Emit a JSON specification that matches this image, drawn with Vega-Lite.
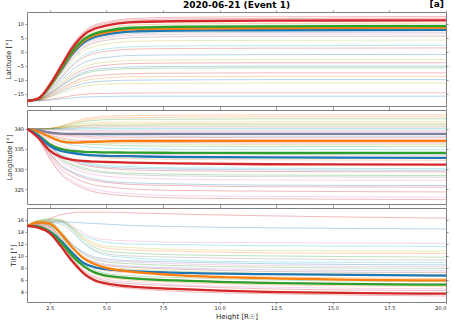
{
"$schema":"https://vega.github.io/schema/vega-lite/v6.json",
"padding":{"left":4,"top":0,"right":2,"bottom":0},
"title":{"text":"[a]","anchor":"end","fontSize":9,"fontWeight":"bold","offset":-9,"dx":-5},
"spacing":4,
"bounds":"flush",
"resolve":{"scale":{"color":"independent"}},
"datasets":{
"lat_thin":[
{"s":"a01","x":1.5,"y":-17.5},{"s":"a01","x":2,"y":-16.6},{"s":"a01","x":2.5,"y":-11.5},{"s":"a01","x":3,"y":-4.6},{"s":"a01","x":3.5,"y":2.4},{"s":"a01","x":4,"y":7.2},{"s":"a01","x":4.5,"y":9.6},{"s":"a01","x":5,"y":10.6},{"s":"a01","x":6,"y":11.8},{"s":"a01","x":8,"y":12.3},{"s":"a01","x":12,"y":12.5},{"s":"a01","x":20,"y":12.6},
{"s":"a02","x":1.5,"y":-17.5},{"s":"a02","x":2,"y":-16.6},{"s":"a02","x":2.5,"y":-11.6},{"s":"a02","x":3,"y":-4.8},{"s":"a02","x":3.5,"y":2.0},{"s":"a02","x":4,"y":6.7},{"s":"a02","x":4.5,"y":9.1},{"s":"a02","x":5,"y":10.1},{"s":"a02","x":6,"y":11.3},{"s":"a02","x":8,"y":11.7},{"s":"a02","x":12,"y":11.9},{"s":"a02","x":20,"y":12.0},
{"s":"a03","x":1.5,"y":-17.5},{"s":"a03","x":2,"y":-16.6},{"s":"a03","x":2.5,"y":-11.7},{"s":"a03","x":3,"y":-5.0},{"s":"a03","x":3.5,"y":1.7},{"s":"a03","x":4,"y":6.4},{"s":"a03","x":4.5,"y":8.7},{"s":"a03","x":5,"y":9.7},{"s":"a03","x":6,"y":10.9},{"s":"a03","x":8,"y":11.3},{"s":"a03","x":12,"y":11.5},{"s":"a03","x":20,"y":11.6},
{"s":"a04","x":1.5,"y":-17.5},{"s":"a04","x":2,"y":-16.7},{"s":"a04","x":2.5,"y":-12.0},{"s":"a04","x":3,"y":-5.6},{"s":"a04","x":3.5,"y":0.8},{"s":"a04","x":4,"y":5.2},{"s":"a04","x":4.5,"y":7.4},{"s":"a04","x":5,"y":8.4},{"s":"a04","x":6,"y":9.5},{"s":"a04","x":8,"y":9.9},{"s":"a04","x":12,"y":10.1},{"s":"a04","x":20,"y":10.2},
{"s":"a05","x":1.5,"y":-17.5},{"s":"a05","x":2,"y":-16.7},{"s":"a05","x":2.5,"y":-12.1},{"s":"a05","x":3,"y":-5.9},{"s":"a05","x":3.5,"y":0.4},{"s":"a05","x":4,"y":4.7},{"s":"a05","x":4.5,"y":6.9},{"s":"a05","x":5,"y":7.8},{"s":"a05","x":6,"y":8.9},{"s":"a05","x":8,"y":9.3},{"s":"a05","x":12,"y":9.5},{"s":"a05","x":20,"y":9.6},
{"s":"a06","x":1.5,"y":-17.5},{"s":"a06","x":2,"y":-16.7},{"s":"a06","x":2.5,"y":-12.2},{"s":"a06","x":3,"y":-6.1},{"s":"a06","x":3.5,"y":0.0},{"s":"a06","x":4,"y":4.2},{"s":"a06","x":4.5,"y":6.4},{"s":"a06","x":5,"y":7.3},{"s":"a06","x":6,"y":8.3},{"s":"a06","x":8,"y":8.7},{"s":"a06","x":12,"y":8.9},{"s":"a06","x":20,"y":9.0},
{"s":"a07","x":1.5,"y":-17.5},{"s":"a07","x":2,"y":-16.7},{"s":"a07","x":2.5,"y":-12.3},{"s":"a07","x":3,"y":-6.4},{"s":"a07","x":3.5,"y":-0.5},{"s":"a07","x":4,"y":3.7},{"s":"a07","x":4.5,"y":5.7},{"s":"a07","x":5,"y":6.6},{"s":"a07","x":6,"y":7.7},{"s":"a07","x":8,"y":8.0},{"s":"a07","x":12,"y":8.2},{"s":"a07","x":20,"y":8.3},
{"s":"a08","x":1.5,"y":-17.5},{"s":"a08","x":2,"y":-16.7},{"s":"a08","x":2.5,"y":-12.5},{"s":"a08","x":3,"y":-6.7},{"s":"a08","x":3.5,"y":-0.9},{"s":"a08","x":4,"y":3.1},{"s":"a08","x":4.5,"y":5.1},{"s":"a08","x":5,"y":6.0},{"s":"a08","x":6,"y":7.0},{"s":"a08","x":8,"y":7.4},{"s":"a08","x":12,"y":7.5},{"s":"a08","x":20,"y":7.6},
{"s":"a09","x":1.5,"y":-17.5},{"s":"a09","x":2,"y":-16.8},{"s":"a09","x":2.5,"y":-12.6},{"s":"a09","x":3,"y":-7.0},{"s":"a09","x":3.5,"y":-1.3},{"s":"a09","x":4,"y":2.6},{"s":"a09","x":4.5,"y":4.6},{"s":"a09","x":5,"y":5.4},{"s":"a09","x":6,"y":6.4},{"s":"a09","x":8,"y":6.8},{"s":"a09","x":12,"y":6.9},{"s":"a09","x":20,"y":7.0},
{"s":"a10","x":1.5,"y":-17.5},{"s":"a10","x":2,"y":-16.8},{"s":"a10","x":2.5,"y":-12.7},{"s":"a10","x":3,"y":-7.2},{"s":"a10","x":3.5,"y":-1.7},{"s":"a10","x":4,"y":2.1},{"s":"a10","x":4.5,"y":4.0},{"s":"a10","x":5,"y":4.9},{"s":"a10","x":6,"y":5.8},{"s":"a10","x":8,"y":6.2},{"s":"a10","x":12,"y":6.3},{"s":"a10","x":20,"y":6.4},
{"s":"a11","x":1.5,"y":-17.5},{"s":"a11","x":2,"y":-16.8},{"s":"a11","x":2.5,"y":-12.9},{"s":"a11","x":3,"y":-7.6},{"s":"a11","x":3.5,"y":-2.3},{"s":"a11","x":4,"y":1.4},{"s":"a11","x":4.5,"y":3.3},{"s":"a11","x":5,"y":4.1},{"s":"a11","x":6,"y":5.0},{"s":"a11","x":8,"y":5.4},{"s":"a11","x":12,"y":5.5},{"s":"a11","x":20,"y":5.6},
{"s":"a12","x":1.5,"y":-17.5},{"s":"a12","x":2,"y":-16.9},{"s":"a12","x":2.5,"y":-13.2},{"s":"a12","x":3,"y":-8.2},{"s":"a12","x":3.5,"y":-3.2},{"s":"a12","x":4,"y":0.3},{"s":"a12","x":4.5,"y":2.0},{"s":"a12","x":5,"y":2.8},{"s":"a12","x":6,"y":3.7},{"s":"a12","x":8,"y":4.0},{"s":"a12","x":12,"y":4.1},{"s":"a12","x":20,"y":4.2},
{"s":"a13","x":1.5,"y":-17.5},{"s":"a13","x":2,"y":-16.9},{"s":"a13","x":2.5,"y":-13.5},{"s":"a13","x":3,"y":-9.0},{"s":"a13","x":3.5,"y":-4.4},{"s":"a13","x":4,"y":-1.3},{"s":"a13","x":4.5,"y":0.3},{"s":"a13","x":5,"y":1.0},{"s":"a13","x":6,"y":1.8},{"s":"a13","x":8,"y":2.1},{"s":"a13","x":12,"y":2.2},{"s":"a13","x":20,"y":2.3},
{"s":"a14","x":1.5,"y":-17.5},{"s":"a14","x":2,"y":-16.9},{"s":"a14","x":2.5,"y":-13.7},{"s":"a14","x":3,"y":-9.4},{"s":"a14","x":3.5,"y":-5.0},{"s":"a14","x":4,"y":-2.0},{"s":"a14","x":4.5,"y":-0.5},{"s":"a14","x":5,"y":0.2},{"s":"a14","x":6,"y":0.9},{"s":"a14","x":8,"y":1.2},{"s":"a14","x":12,"y":1.3},{"s":"a14","x":20,"y":1.4},
{"s":"a15","x":1.5,"y":-17.5},{"s":"a15","x":2,"y":-17.0},{"s":"a15","x":2.5,"y":-14.2},{"s":"a15","x":3,"y":-10.4},{"s":"a15","x":3.5,"y":-6.5},{"s":"a15","x":4,"y":-3.9},{"s":"a15","x":4.5,"y":-2.6},{"s":"a15","x":5,"y":-2.0},{"s":"a15","x":6,"y":-1.3},{"s":"a15","x":8,"y":-1.1},{"s":"a15","x":12,"y":-1.0},{"s":"a15","x":20,"y":-0.9},
{"s":"a16","x":1.5,"y":-17.5},{"s":"a16","x":2,"y":-17.1},{"s":"a16","x":2.5,"y":-14.5},{"s":"a16","x":3,"y":-11.1},{"s":"a16","x":3.5,"y":-7.7},{"s":"a16","x":4,"y":-5.4},{"s":"a16","x":4.5,"y":-4.2},{"s":"a16","x":5,"y":-3.7},{"s":"a16","x":6,"y":-3.1},{"s":"a16","x":8,"y":-2.9},{"s":"a16","x":12,"y":-2.7},{"s":"a16","x":20,"y":-2.7},
{"s":"a17","x":1.5,"y":-17.5},{"s":"a17","x":2,"y":-17.1},{"s":"a17","x":2.5,"y":-14.8},{"s":"a17","x":3,"y":-11.7},{"s":"a17","x":3.5,"y":-8.5},{"s":"a17","x":4,"y":-6.4},{"s":"a17","x":4.5,"y":-5.3},{"s":"a17","x":5,"y":-4.8},{"s":"a17","x":6,"y":-4.2},{"s":"a17","x":8,"y":-4.0},{"s":"a17","x":12,"y":-3.9},{"s":"a17","x":20,"y":-3.9},
{"s":"a18","x":1.5,"y":-17.5},{"s":"a18","x":2,"y":-17.1},{"s":"a18","x":2.5,"y":-15.0},{"s":"a18","x":3,"y":-12.2},{"s":"a18","x":3.5,"y":-9.3},{"s":"a18","x":4,"y":-7.3},{"s":"a18","x":4.5,"y":-6.3},{"s":"a18","x":5,"y":-5.9},{"s":"a18","x":6,"y":-5.4},{"s":"a18","x":8,"y":-5.2},{"s":"a18","x":12,"y":-5.1},{"s":"a18","x":20,"y":-5.1},
{"s":"a19","x":1.5,"y":-17.5},{"s":"a19","x":2,"y":-17.2},{"s":"a19","x":2.5,"y":-15.1},{"s":"a19","x":3,"y":-12.4},{"s":"a19","x":3.5,"y":-9.7},{"s":"a19","x":4,"y":-7.8},{"s":"a19","x":4.5,"y":-6.9},{"s":"a19","x":5,"y":-6.5},{"s":"a19","x":6,"y":-6.0},{"s":"a19","x":8,"y":-5.8},{"s":"a19","x":12,"y":-5.7},{"s":"a19","x":20,"y":-5.7},
{"s":"a20","x":1.5,"y":-17.5},{"s":"a20","x":2,"y":-17.2},{"s":"a20","x":2.5,"y":-15.5},{"s":"a20","x":3,"y":-13.2},{"s":"a20","x":3.5,"y":-10.9},{"s":"a20","x":4,"y":-9.3},{"s":"a20","x":4.5,"y":-8.5},{"s":"a20","x":5,"y":-8.2},{"s":"a20","x":6,"y":-7.8},{"s":"a20","x":8,"y":-7.6},{"s":"a20","x":12,"y":-7.5},{"s":"a20","x":20,"y":-7.5},
{"s":"a21","x":1.5,"y":-17.5},{"s":"a21","x":2,"y":-17.2},{"s":"a21","x":2.5,"y":-15.7},{"s":"a21","x":3,"y":-13.7},{"s":"a21","x":3.5,"y":-11.7},{"s":"a21","x":4,"y":-10.3},{"s":"a21","x":4.5,"y":-9.6},{"s":"a21","x":5,"y":-9.3},{"s":"a21","x":6,"y":-8.9},{"s":"a21","x":8,"y":-8.8},{"s":"a21","x":12,"y":-8.7},{"s":"a21","x":20,"y":-8.7},
{"s":"a22","x":1.5,"y":-17.5},{"s":"a22","x":2,"y":-17.3},{"s":"a22","x":2.5,"y":-16.0},{"s":"a22","x":3,"y":-14.2},{"s":"a22","x":3.5,"y":-12.5},{"s":"a22","x":4,"y":-11.3},{"s":"a22","x":4.5,"y":-10.7},{"s":"a22","x":5,"y":-10.4},{"s":"a22","x":6,"y":-10.1},{"s":"a22","x":8,"y":-10.0},{"s":"a22","x":12,"y":-9.9},{"s":"a22","x":20,"y":-9.9},
{"s":"a23","x":1.5,"y":-17.5},{"s":"a23","x":2,"y":-17.3},{"s":"a23","x":2.5,"y":-16.2},{"s":"a23","x":3,"y":-14.8},{"s":"a23","x":3.5,"y":-13.3},{"s":"a23","x":4,"y":-12.3},{"s":"a23","x":4.5,"y":-11.7},{"s":"a23","x":5,"y":-11.5},{"s":"a23","x":6,"y":-11.3},{"s":"a23","x":8,"y":-11.2},{"s":"a23","x":12,"y":-11.1},{"s":"a23","x":20,"y":-11.1},
{"s":"a24","x":1.5,"y":-17.5},{"s":"a24","x":2,"y":-17.4},{"s":"a24","x":2.5,"y":-16.9},{"s":"a24","x":3,"y":-16.3},{"s":"a24","x":3.5,"y":-15.6},{"s":"a24","x":4,"y":-15.1},{"s":"a24","x":4.5,"y":-14.9},{"s":"a24","x":5,"y":-14.8},{"s":"a24","x":6,"y":-14.7},{"s":"a24","x":8,"y":-14.6},{"s":"a24","x":12,"y":-14.6},{"s":"a24","x":20,"y":-14.6},
{"s":"a25","x":1.5,"y":-17.5},{"s":"a25","x":2,"y":-17.5},{"s":"a25","x":2.5,"y":-17.2},{"s":"a25","x":3,"y":-16.8},{"s":"a25","x":3.5,"y":-16.4},{"s":"a25","x":4,"y":-16.1},{"s":"a25","x":4.5,"y":-16.0},{"s":"a25","x":5,"y":-15.9},{"s":"a25","x":6,"y":-15.8},{"s":"a25","x":8,"y":-15.8},{"s":"a25","x":12,"y":-15.8},{"s":"a25","x":20,"y":-15.8}
],
"lat_bold":[
{"s":"m4","x":1.5,"y":-17.5},{"s":"m4","x":2,"y":-16.7},{"s":"m4","x":2.5,"y":-12.4},{"s":"m4","x":3,"y":-6.6},{"s":"m4","x":3.5,"y":-0.8},{"s":"m4","x":4,"y":3.3},{"s":"m4","x":4.5,"y":5.3},{"s":"m4","x":5,"y":6.2},{"s":"m4","x":6,"y":7.2},{"s":"m4","x":8,"y":7.6},{"s":"m4","x":12,"y":7.7},{"s":"m4","x":20,"y":7.8},
{"s":"m3","x":1.5,"y":-17.5},{"s":"m3","x":2,"y":-16.7},{"s":"m3","x":2.5,"y":-12.3},{"s":"m3","x":3,"y":-6.3},{"s":"m3","x":3.5,"y":-0.3},{"s":"m3","x":4,"y":3.9},{"s":"m3","x":4.5,"y":6.0},{"s":"m3","x":5,"y":6.9},{"s":"m3","x":6,"y":8.0},{"s":"m3","x":8,"y":8.3},{"s":"m3","x":12,"y":8.5},{"s":"m3","x":20,"y":8.6},
{"s":"m2","x":1.5,"y":-17.5},{"s":"m2","x":2,"y":-16.7},{"s":"m2","x":2.5,"y":-12.2},{"s":"m2","x":3,"y":-6.0},{"s":"m2","x":3.5,"y":0.1},{"s":"m2","x":4,"y":4.4},{"s":"m2","x":4.5,"y":6.5},{"s":"m2","x":5,"y":7.5},{"s":"m2","x":6,"y":8.5},{"s":"m2","x":8,"y":8.9},{"s":"m2","x":12,"y":9.1},{"s":"m2","x":20,"y":9.2},
{"s":"m1","x":1.5,"y":-17.5},{"s":"m1","x":2,"y":-16.6},{"s":"m1","x":2.5,"y":-11.8},{"s":"m1","x":3,"y":-5.2},{"s":"m1","x":3.5,"y":1.4},{"s":"m1","x":4,"y":6.0},{"s":"m1","x":4.5,"y":8.3},{"s":"m1","x":5,"y":9.3},{"s":"m1","x":6,"y":10.5},{"s":"m1","x":8,"y":10.9},{"s":"m1","x":12,"y":11.1},{"s":"m1","x":20,"y":11.2}
],
"lon_thin":[
{"s":"b01","x":1.5,"y":340},{"s":"b01","x":2,"y":340},{"s":"b01","x":2.5,"y":340.1},{"s":"b01","x":3,"y":340.7},{"s":"b01","x":3.5,"y":341.6},{"s":"b01","x":4,"y":342.5},{"s":"b01","x":4.5,"y":342.9},{"s":"b01","x":5,"y":343.2},{"s":"b01","x":6,"y":343.3},{"s":"b01","x":8,"y":343.4},{"s":"b01","x":12,"y":343.5},{"s":"b01","x":20,"y":343.5},
{"s":"b02","x":1.5,"y":340},{"s":"b02","x":2,"y":340},{"s":"b02","x":2.5,"y":340.1},{"s":"b02","x":3,"y":340.6},{"s":"b02","x":3.5,"y":341.4},{"s":"b02","x":4,"y":342.1},{"s":"b02","x":4.5,"y":342.5},{"s":"b02","x":5,"y":342.7},{"s":"b02","x":6,"y":342.8},{"s":"b02","x":8,"y":342.9},{"s":"b02","x":12,"y":343.0},{"s":"b02","x":20,"y":343.0},
{"s":"b03","x":1.5,"y":340},{"s":"b03","x":2,"y":340},{"s":"b03","x":2.5,"y":340.1},{"s":"b03","x":3,"y":340.5},{"s":"b03","x":3.5,"y":341.1},{"s":"b03","x":4,"y":341.8},{"s":"b03","x":4.5,"y":342.1},{"s":"b03","x":5,"y":342.3},{"s":"b03","x":6,"y":342.4},{"s":"b03","x":8,"y":342.4},{"s":"b03","x":12,"y":342.5},{"s":"b03","x":20,"y":342.5},
{"s":"b04","x":1.5,"y":340},{"s":"b04","x":2,"y":340},{"s":"b04","x":2.5,"y":340.1},{"s":"b04","x":3,"y":340.4},{"s":"b04","x":3.5,"y":340.8},{"s":"b04","x":4,"y":341.3},{"s":"b04","x":4.5,"y":341.5},{"s":"b04","x":5,"y":341.6},{"s":"b04","x":6,"y":341.7},{"s":"b04","x":8,"y":341.7},{"s":"b04","x":12,"y":341.8},{"s":"b04","x":20,"y":341.8},
{"s":"b05","x":1.5,"y":340},{"s":"b05","x":2,"y":340},{"s":"b05","x":2.5,"y":340.1},{"s":"b05","x":3,"y":340.3},{"s":"b05","x":3.5,"y":340.6},{"s":"b05","x":4,"y":340.9},{"s":"b05","x":4.5,"y":341.1},{"s":"b05","x":5,"y":341.2},{"s":"b05","x":6,"y":341.2},{"s":"b05","x":8,"y":341.3},{"s":"b05","x":12,"y":341.3},{"s":"b05","x":20,"y":341.3},
{"s":"b06","x":1.5,"y":340},{"s":"b06","x":2,"y":340},{"s":"b06","x":2.5,"y":340.0},{"s":"b06","x":3,"y":340.2},{"s":"b06","x":3.5,"y":340.5},{"s":"b06","x":4,"y":340.7},{"s":"b06","x":4.5,"y":340.8},{"s":"b06","x":5,"y":340.9},{"s":"b06","x":6,"y":340.9},{"s":"b06","x":8,"y":341.0},{"s":"b06","x":12,"y":341.0},{"s":"b06","x":20,"y":341.0},
{"s":"b07","x":1.5,"y":340},{"s":"b07","x":2,"y":340},{"s":"b07","x":2.5,"y":340.0},{"s":"b07","x":3,"y":340.1},{"s":"b07","x":3.5,"y":340.2},{"s":"b07","x":4,"y":340.4},{"s":"b07","x":4.5,"y":340.4},{"s":"b07","x":5,"y":340.5},{"s":"b07","x":6,"y":340.5},{"s":"b07","x":8,"y":340.5},{"s":"b07","x":12,"y":340.5},{"s":"b07","x":20,"y":340.5},
{"s":"b08","x":1.5,"y":340},{"s":"b08","x":2,"y":340},{"s":"b08","x":2.5,"y":340},{"s":"b08","x":3,"y":340},{"s":"b08","x":3.5,"y":340},{"s":"b08","x":4,"y":340.1},{"s":"b08","x":4.5,"y":340.1},{"s":"b08","x":5,"y":340.1},{"s":"b08","x":6,"y":340.1},{"s":"b08","x":8,"y":340.1},{"s":"b08","x":12,"y":340.1},{"s":"b08","x":20,"y":340.1},
{"s":"b09","x":1.5,"y":340},{"s":"b09","x":2,"y":340.0},{"s":"b09","x":2.5,"y":339.9},{"s":"b09","x":3,"y":339.8},{"s":"b09","x":3.5,"y":339.8},{"s":"b09","x":4,"y":339.7},{"s":"b09","x":4.5,"y":339.7},{"s":"b09","x":5,"y":339.7},{"s":"b09","x":6,"y":339.7},{"s":"b09","x":8,"y":339.7},{"s":"b09","x":12,"y":339.7},{"s":"b09","x":20,"y":339.7},
{"s":"b10","x":1.5,"y":340},{"s":"b10","x":2,"y":339.9},{"s":"b10","x":2.5,"y":339.7},{"s":"b10","x":3,"y":339.6},{"s":"b10","x":3.5,"y":339.5},{"s":"b10","x":4,"y":339.4},{"s":"b10","x":4.5,"y":339.4},{"s":"b10","x":5,"y":339.4},{"s":"b10","x":6,"y":339.3},{"s":"b10","x":8,"y":339.3},{"s":"b10","x":12,"y":339.3},{"s":"b10","x":20,"y":339.3},
{"s":"b11","x":1.5,"y":340},{"s":"b11","x":2,"y":339.7},{"s":"b11","x":2.5,"y":339.2},{"s":"b11","x":3,"y":338.8},{"s":"b11","x":3.5,"y":338.6},{"s":"b11","x":4,"y":338.5},{"s":"b11","x":4.5,"y":338.4},{"s":"b11","x":5,"y":338.3},{"s":"b11","x":6,"y":338.3},{"s":"b11","x":8,"y":338.2},{"s":"b11","x":12,"y":338.2},{"s":"b11","x":20,"y":338.2},
{"s":"b12","x":1.5,"y":340},{"s":"b12","x":2,"y":339.7},{"s":"b12","x":2.5,"y":339.1},{"s":"b12","x":3,"y":338.6},{"s":"b12","x":3.5,"y":338.3},{"s":"b12","x":4,"y":338.2},{"s":"b12","x":4.5,"y":338.0},{"s":"b12","x":5,"y":338.0},{"s":"b12","x":6,"y":337.9},{"s":"b12","x":8,"y":337.9},{"s":"b12","x":12,"y":337.8},{"s":"b12","x":20,"y":337.8},
{"s":"b13","x":1.5,"y":340},{"s":"b13","x":2,"y":339.6},{"s":"b13","x":2.5,"y":338.9},{"s":"b13","x":3,"y":338.3},{"s":"b13","x":3.5,"y":338.0},{"s":"b13","x":4,"y":337.7},{"s":"b13","x":4.5,"y":337.6},{"s":"b13","x":5,"y":337.5},{"s":"b13","x":6,"y":337.4},{"s":"b13","x":8,"y":337.4},{"s":"b13","x":12,"y":337.3},{"s":"b13","x":20,"y":337.3},
{"s":"b14","x":1.5,"y":340},{"s":"b14","x":2,"y":339.5},{"s":"b14","x":2.5,"y":338.5},{"s":"b14","x":3,"y":337.8},{"s":"b14","x":3.5,"y":337.3},{"s":"b14","x":4,"y":337.1},{"s":"b14","x":4.5,"y":336.9},{"s":"b14","x":5,"y":336.8},{"s":"b14","x":6,"y":336.7},{"s":"b14","x":8,"y":336.6},{"s":"b14","x":12,"y":336.5},{"s":"b14","x":20,"y":336.5},
{"s":"b15","x":1.5,"y":340},{"s":"b15","x":2,"y":339.4},{"s":"b15","x":2.5,"y":338.4},{"s":"b15","x":3,"y":337.5},{"s":"b15","x":3.5,"y":337.0},{"s":"b15","x":4,"y":336.7},{"s":"b15","x":4.5,"y":336.5},{"s":"b15","x":5,"y":336.4},{"s":"b15","x":6,"y":336.3},{"s":"b15","x":8,"y":336.2},{"s":"b15","x":12,"y":336.1},{"s":"b15","x":20,"y":336.1},
{"s":"b16","x":1.5,"y":340},{"s":"b16","x":2,"y":339.3},{"s":"b16","x":2.5,"y":338.2},{"s":"b16","x":3,"y":337.2},{"s":"b16","x":3.5,"y":336.7},{"s":"b16","x":4,"y":336.3},{"s":"b16","x":4.5,"y":336.1},{"s":"b16","x":5,"y":336.0},{"s":"b16","x":6,"y":335.8},{"s":"b16","x":8,"y":335.7},{"s":"b16","x":12,"y":335.6},{"s":"b16","x":20,"y":335.6},
{"s":"b17","x":1.5,"y":340},{"s":"b17","x":2,"y":339.2},{"s":"b17","x":2.5,"y":337.8},{"s":"b17","x":3,"y":336.7},{"s":"b17","x":3.5,"y":336.0},{"s":"b17","x":4,"y":335.6},{"s":"b17","x":4.5,"y":335.4},{"s":"b17","x":5,"y":335.2},{"s":"b17","x":6,"y":335.1},{"s":"b17","x":8,"y":334.9},{"s":"b17","x":12,"y":334.9},{"s":"b17","x":20,"y":334.8},
{"s":"b18","x":1.5,"y":340},{"s":"b18","x":2,"y":339.0},{"s":"b18","x":2.5,"y":337.2},{"s":"b18","x":3,"y":335.8},{"s":"b18","x":3.5,"y":335.0},{"s":"b18","x":4,"y":334.5},{"s":"b18","x":4.5,"y":334.1},{"s":"b18","x":5,"y":333.9},{"s":"b18","x":6,"y":333.7},{"s":"b18","x":8,"y":333.6},{"s":"b18","x":12,"y":333.5},{"s":"b18","x":20,"y":333.4},
{"s":"b19","x":1.5,"y":340},{"s":"b19","x":2,"y":338.8},{"s":"b19","x":2.5,"y":336.7},{"s":"b19","x":3,"y":335.0},{"s":"b19","x":3.5,"y":334.1},{"s":"b19","x":4,"y":333.5},{"s":"b19","x":4.5,"y":333.1},{"s":"b19","x":5,"y":332.8},{"s":"b19","x":6,"y":332.6},{"s":"b19","x":8,"y":332.4},{"s":"b19","x":12,"y":332.3},{"s":"b19","x":20,"y":332.2},
{"s":"b20","x":1.5,"y":340},{"s":"b20","x":2,"y":338.5},{"s":"b20","x":2.5,"y":335.8},{"s":"b20","x":3,"y":333.7},{"s":"b20","x":3.5,"y":332.5},{"s":"b20","x":4,"y":331.7},{"s":"b20","x":4.5,"y":331.2},{"s":"b20","x":5,"y":330.9},{"s":"b20","x":6,"y":330.6},{"s":"b20","x":8,"y":330.3},{"s":"b20","x":12,"y":330.2},{"s":"b20","x":20,"y":330.1},
{"s":"b21","x":1.5,"y":340},{"s":"b21","x":2,"y":338.5},{"s":"b21","x":2.5,"y":335.7},{"s":"b21","x":3,"y":333.4},{"s":"b21","x":3.5,"y":332.2},{"s":"b21","x":4,"y":331.3},{"s":"b21","x":4.5,"y":330.8},{"s":"b21","x":5,"y":330.5},{"s":"b21","x":6,"y":330.2},{"s":"b21","x":8,"y":330.0},{"s":"b21","x":12,"y":329.8},{"s":"b21","x":20,"y":329.7},
{"s":"b22","x":1.5,"y":340},{"s":"b22","x":2,"y":338.4},{"s":"b22","x":2.5,"y":335.5},{"s":"b22","x":3,"y":333.2},{"s":"b22","x":3.5,"y":331.9},{"s":"b22","x":4,"y":331.0},{"s":"b22","x":4.5,"y":330.5},{"s":"b22","x":5,"y":330.2},{"s":"b22","x":6,"y":329.8},{"s":"b22","x":8,"y":329.6},{"s":"b22","x":12,"y":329.4},{"s":"b22","x":20,"y":329.3},
{"s":"b23","x":1.5,"y":340},{"s":"b23","x":2,"y":338.3},{"s":"b23","x":2.5,"y":335.1},{"s":"b23","x":3,"y":332.6},{"s":"b23","x":3.5,"y":331.2},{"s":"b23","x":4,"y":330.3},{"s":"b23","x":4.5,"y":329.7},{"s":"b23","x":5,"y":329.3},{"s":"b23","x":6,"y":329.0},{"s":"b23","x":8,"y":328.7},{"s":"b23","x":12,"y":328.5},{"s":"b23","x":20,"y":328.4},
{"s":"b24","x":1.5,"y":340},{"s":"b24","x":2,"y":338.2},{"s":"b24","x":2.5,"y":335.0},{"s":"b24","x":3,"y":332.3},{"s":"b24","x":3.5,"y":330.9},{"s":"b24","x":4,"y":329.9},{"s":"b24","x":4.5,"y":329.3},{"s":"b24","x":5,"y":329.0},{"s":"b24","x":6,"y":328.6},{"s":"b24","x":8,"y":328.3},{"s":"b24","x":12,"y":328.1},{"s":"b24","x":20,"y":328.0},
{"s":"b25","x":1.5,"y":340},{"s":"b25","x":2,"y":338.1},{"s":"b25","x":2.5,"y":334.6},{"s":"b25","x":3,"y":331.8},{"s":"b25","x":3.5,"y":330.3},{"s":"b25","x":4,"y":329.2},{"s":"b25","x":4.5,"y":328.6},{"s":"b25","x":5,"y":328.2},{"s":"b25","x":6,"y":327.8},{"s":"b25","x":8,"y":327.5},{"s":"b25","x":12,"y":327.3},{"s":"b25","x":20,"y":327.2},
{"s":"b26","x":1.5,"y":340},{"s":"b26","x":2,"y":337.9},{"s":"b26","x":2.5,"y":334.1},{"s":"b26","x":3,"y":331.0},{"s":"b26","x":3.5,"y":329.3},{"s":"b26","x":4,"y":328.2},{"s":"b26","x":4.5,"y":327.5},{"s":"b26","x":5,"y":327.0},{"s":"b26","x":6,"y":326.6},{"s":"b26","x":8,"y":326.3},{"s":"b26","x":12,"y":326.0},{"s":"b26","x":20,"y":325.9},
{"s":"b27","x":1.5,"y":340},{"s":"b27","x":2,"y":337.8},{"s":"b27","x":2.5,"y":333.9},{"s":"b27","x":3,"y":330.7},{"s":"b27","x":3.5,"y":329.0},{"s":"b27","x":4,"y":327.8},{"s":"b27","x":4.5,"y":327.1},{"s":"b27","x":5,"y":326.7},{"s":"b27","x":6,"y":326.2},{"s":"b27","x":8,"y":325.9},{"s":"b27","x":12,"y":325.6},{"s":"b27","x":20,"y":325.5},
{"s":"b28","x":1.5,"y":340},{"s":"b28","x":2,"y":337.6},{"s":"b28","x":2.5,"y":333.4},{"s":"b28","x":3,"y":330.0},{"s":"b28","x":3.5,"y":328.1},{"s":"b28","x":4,"y":326.8},{"s":"b28","x":4.5,"y":326.0},{"s":"b28","x":5,"y":325.6},{"s":"b28","x":6,"y":325.1},{"s":"b28","x":8,"y":324.7},{"s":"b28","x":12,"y":324.5},{"s":"b28","x":20,"y":324.3},
{"s":"b29","x":1.5,"y":340},{"s":"b29","x":2,"y":337.5},{"s":"b29","x":2.5,"y":332.9},{"s":"b29","x":3,"y":329.1},{"s":"b29","x":3.5,"y":327.1},{"s":"b29","x":4,"y":325.7},{"s":"b29","x":4.5,"y":324.9},{"s":"b29","x":5,"y":324.4},{"s":"b29","x":6,"y":323.9},{"s":"b29","x":8,"y":323.4},{"s":"b29","x":12,"y":323.2},{"s":"b29","x":20,"y":323.0},
{"s":"b30","x":1.5,"y":340},{"s":"b30","x":2,"y":337.4},{"s":"b30","x":2.5,"y":332.6},{"s":"b30","x":3,"y":328.7},{"s":"b30","x":3.5,"y":326.6},{"s":"b30","x":4,"y":325.2},{"s":"b30","x":4.5,"y":324.3},{"s":"b30","x":5,"y":323.8},{"s":"b30","x":6,"y":323.3},{"s":"b30","x":8,"y":322.8},{"s":"b30","x":12,"y":322.6},{"s":"b30","x":20,"y":322.4}
],
"lon_bold":[
{"s":"m5","x":1.5,"y":340},{"s":"m5","x":2,"y":339.6},{"s":"m5","x":2.5,"y":339.1},{"s":"m5","x":3,"y":338.8},{"s":"m5","x":3.5,"y":338.75},{"s":"m5","x":4,"y":338.75},{"s":"m5","x":4.5,"y":338.75},{"s":"m5","x":5,"y":338.75},{"s":"m5","x":6,"y":338.75},{"s":"m5","x":8,"y":338.75},{"s":"m5","x":12,"y":338.75},{"s":"m5","x":20,"y":338.75},
{"s":"m3","x":1.5,"y":340},{"s":"m3","x":2,"y":339.3},{"s":"m3","x":2.5,"y":338.0},{"s":"m3","x":3,"y":336.9},{"s":"m3","x":3.5,"y":336.6},{"s":"m3","x":4,"y":336.7},{"s":"m3","x":4.5,"y":336.8},{"s":"m3","x":5,"y":336.9},{"s":"m3","x":6,"y":337.0},{"s":"m3","x":8,"y":337.0},{"s":"m3","x":12,"y":337.0},{"s":"m3","x":20,"y":337.0},
{"s":"m2","x":1.5,"y":340},{"s":"m2","x":2,"y":338.4},{"s":"m2","x":2.5,"y":336.2},{"s":"m2","x":3,"y":335.0},{"s":"m2","x":3.5,"y":334.5},{"s":"m2","x":4,"y":334.3},{"s":"m2","x":4.5,"y":334.2},{"s":"m2","x":5,"y":334.15},{"s":"m2","x":6,"y":334.1},{"s":"m2","x":8,"y":334.05},{"s":"m2","x":12,"y":334.0},{"s":"m2","x":20,"y":334.0},
{"s":"m4","x":1.5,"y":340},{"s":"m4","x":2,"y":338.3},{"s":"m4","x":2.5,"y":335.8},{"s":"m4","x":3,"y":334.5},{"s":"m4","x":3.5,"y":334.0},{"s":"m4","x":4,"y":333.6},{"s":"m4","x":4.5,"y":333.4},{"s":"m4","x":5,"y":333.3},{"s":"m4","x":6,"y":333.2},{"s":"m4","x":8,"y":333.0},{"s":"m4","x":12,"y":332.9},{"s":"m4","x":20,"y":332.8},
{"s":"m1","x":1.5,"y":340},{"s":"m1","x":2,"y":337.8},{"s":"m1","x":2.5,"y":334.6},{"s":"m1","x":3,"y":333.0},{"s":"m1","x":3.5,"y":332.3},{"s":"m1","x":4,"y":332.0},{"s":"m1","x":4.5,"y":331.85},{"s":"m1","x":5,"y":331.75},{"s":"m1","x":6,"y":331.6},{"s":"m1","x":8,"y":331.4},{"s":"m1","x":12,"y":331.2},{"s":"m1","x":20,"y":331.1}
],
"tilt_thin":[
{"s":"c01","x":1.5,"y":15},{"s":"c01","x":2,"y":15.4},{"s":"c01","x":2.5,"y":16.2},{"s":"c01","x":3,"y":16.9},{"s":"c01","x":3.5,"y":17.2},{"s":"c01","x":4,"y":17.3},{"s":"c01","x":4.5,"y":17.3},{"s":"c01","x":5,"y":17.3},{"s":"c01","x":6,"y":17.2},{"s":"c01","x":8,"y":17.0},{"s":"c01","x":12,"y":16.7},{"s":"c01","x":20,"y":16.3},
{"s":"c02","x":1.5,"y":15},{"s":"c02","x":2,"y":15.3},{"s":"c02","x":2.5,"y":15.6},{"s":"c02","x":3,"y":15.7},{"s":"c02","x":3.5,"y":15.6},{"s":"c02","x":4,"y":15.5},{"s":"c02","x":4.5,"y":15.4},{"s":"c02","x":5,"y":15.3},{"s":"c02","x":6,"y":15.1},{"s":"c02","x":8,"y":14.9},{"s":"c02","x":12,"y":14.7},{"s":"c02","x":20,"y":14.5},
{"s":"c03","x":1.5,"y":15},{"s":"c03","x":2,"y":15.7},{"s":"c03","x":2.5,"y":15.9},{"s":"c03","x":3,"y":15.9},{"s":"c03","x":3.5,"y":15.0},{"s":"c03","x":4,"y":13.8},{"s":"c03","x":4.5,"y":13.0},{"s":"c03","x":5,"y":12.7},{"s":"c03","x":6,"y":12.5},{"s":"c03","x":8,"y":12.3},{"s":"c03","x":12,"y":12.2},{"s":"c03","x":20,"y":12.1},
{"s":"c04","x":1.5,"y":15},{"s":"c04","x":2,"y":15.5},{"s":"c04","x":2.5,"y":15.7},{"s":"c04","x":3,"y":15.6},{"s":"c04","x":3.5,"y":14.7},{"s":"c04","x":4,"y":13.4},{"s":"c04","x":4.5,"y":12.7},{"s":"c04","x":5,"y":12.3},{"s":"c04","x":6,"y":12.0},{"s":"c04","x":8,"y":11.9},{"s":"c04","x":12,"y":11.7},{"s":"c04","x":20,"y":11.6},
{"s":"c05","x":1.5,"y":15},{"s":"c05","x":2,"y":15.8},{"s":"c05","x":2.5,"y":16.1},{"s":"c05","x":3,"y":16.0},{"s":"c05","x":3.5,"y":14.8},{"s":"c05","x":4,"y":13.1},{"s":"c05","x":4.5,"y":12.1},{"s":"c05","x":5,"y":11.6},{"s":"c05","x":6,"y":11.4},{"s":"c05","x":8,"y":11.1},{"s":"c05","x":12,"y":10.9},{"s":"c05","x":20,"y":10.8},
{"s":"c06","x":1.5,"y":15},{"s":"c06","x":2,"y":15.7},{"s":"c06","x":2.5,"y":15.9},{"s":"c06","x":3,"y":15.8},{"s":"c06","x":3.5,"y":14.5},{"s":"c06","x":4,"y":12.9},{"s":"c06","x":4.5,"y":11.8},{"s":"c06","x":5,"y":11.3},{"s":"c06","x":6,"y":11.0},{"s":"c06","x":8,"y":10.8},{"s":"c06","x":12,"y":10.5},{"s":"c06","x":20,"y":10.4},
{"s":"c07","x":1.5,"y":15},{"s":"c07","x":2,"y":15.9},{"s":"c07","x":2.5,"y":16.2},{"s":"c07","x":3,"y":16.0},{"s":"c07","x":3.5,"y":14.6},{"s":"c07","x":4,"y":12.6},{"s":"c07","x":4.5,"y":11.4},{"s":"c07","x":5,"y":10.8},{"s":"c07","x":6,"y":10.5},{"s":"c07","x":8,"y":10.2},{"s":"c07","x":12,"y":10.0},{"s":"c07","x":20,"y":9.8},
{"s":"c08","x":1.5,"y":15},{"s":"c08","x":2,"y":15.5},{"s":"c08","x":2.5,"y":15.6},{"s":"c08","x":3,"y":15.3},{"s":"c08","x":3.5,"y":14.0},{"s":"c08","x":4,"y":12.2},{"s":"c08","x":4.5,"y":11.0},{"s":"c08","x":5,"y":10.4},{"s":"c08","x":6,"y":10.0},{"s":"c08","x":8,"y":9.8},{"s":"c08","x":12,"y":9.5},{"s":"c08","x":20,"y":9.3},
{"s":"c09","x":1.5,"y":15},{"s":"c09","x":2,"y":15.7},{"s":"c09","x":2.5,"y":16.0},{"s":"c09","x":3,"y":15.7},{"s":"c09","x":3.5,"y":14.2},{"s":"c09","x":4,"y":12.1},{"s":"c09","x":4.5,"y":10.8},{"s":"c09","x":5,"y":10.1},{"s":"c09","x":6,"y":9.7},{"s":"c09","x":8,"y":9.3},{"s":"c09","x":12,"y":9.0},{"s":"c09","x":20,"y":8.9},
{"s":"c10","x":1.5,"y":15},{"s":"c10","x":2,"y":15.4},{"s":"c10","x":2.5,"y":15.1},{"s":"c10","x":3,"y":13.7},{"s":"c10","x":3.5,"y":11.9},{"s":"c10","x":4,"y":10.6},{"s":"c10","x":4.5,"y":9.8},{"s":"c10","x":5,"y":9.5},{"s":"c10","x":6,"y":9.2},{"s":"c10","x":8,"y":9.0},{"s":"c10","x":12,"y":8.7},{"s":"c10","x":20,"y":8.5},
{"s":"c11","x":1.5,"y":15},{"s":"c11","x":2,"y":15.6},{"s":"c11","x":2.5,"y":15.5},{"s":"c11","x":3,"y":13.9},{"s":"c11","x":3.5,"y":11.9},{"s":"c11","x":4,"y":10.4},{"s":"c11","x":4.5,"y":9.6},{"s":"c11","x":5,"y":9.2},{"s":"c11","x":6,"y":9.0},{"s":"c11","x":8,"y":8.7},{"s":"c11","x":12,"y":8.4},{"s":"c11","x":20,"y":8.2},
{"s":"c12","x":1.5,"y":15},{"s":"c12","x":2,"y":15.8},{"s":"c12","x":2.5,"y":15.7},{"s":"c12","x":3,"y":14.1},{"s":"c12","x":3.5,"y":11.9},{"s":"c12","x":4,"y":10.3},{"s":"c12","x":4.5,"y":9.4},{"s":"c12","x":5,"y":9.0},{"s":"c12","x":6,"y":8.7},{"s":"c12","x":8,"y":8.4},{"s":"c12","x":12,"y":8.1},{"s":"c12","x":20,"y":7.9},
{"s":"c13","x":1.5,"y":15},{"s":"c13","x":2,"y":15.2},{"s":"c13","x":2.5,"y":14.8},{"s":"c13","x":3,"y":13.2},{"s":"c13","x":3.5,"y":11.3},{"s":"c13","x":4,"y":9.8},{"s":"c13","x":4.5,"y":9.0},{"s":"c13","x":5,"y":8.6},{"s":"c13","x":6,"y":8.3},{"s":"c13","x":8,"y":8.0},{"s":"c13","x":12,"y":7.7},{"s":"c13","x":20,"y":7.5},
{"s":"c14","x":1.5,"y":15},{"s":"c14","x":2,"y":15.5},{"s":"c14","x":2.5,"y":15.1},{"s":"c14","x":3,"y":13.5},{"s":"c14","x":3.5,"y":11.3},{"s":"c14","x":4,"y":9.7},{"s":"c14","x":4.5,"y":8.8},{"s":"c14","x":5,"y":8.4},{"s":"c14","x":6,"y":8.1},{"s":"c14","x":8,"y":7.8},{"s":"c14","x":12,"y":7.4},{"s":"c14","x":20,"y":7.2},
{"s":"c15","x":1.5,"y":15},{"s":"c15","x":2,"y":15.9},{"s":"c15","x":2.5,"y":15.7},{"s":"c15","x":3,"y":13.9},{"s":"c15","x":3.5,"y":11.4},{"s":"c15","x":4,"y":9.6},{"s":"c15","x":4.5,"y":8.6},{"s":"c15","x":5,"y":8.1},{"s":"c15","x":6,"y":7.8},{"s":"c15","x":8,"y":7.5},{"s":"c15","x":12,"y":7.1},{"s":"c15","x":20,"y":6.9},
{"s":"c16","x":1.5,"y":15},{"s":"c16","x":2,"y":15.2},{"s":"c16","x":2.5,"y":14.7},{"s":"c16","x":3,"y":12.9},{"s":"c16","x":3.5,"y":10.7},{"s":"c16","x":4,"y":8.9},{"s":"c16","x":4.5,"y":8.0},{"s":"c16","x":5,"y":7.5},{"s":"c16","x":6,"y":7.2},{"s":"c16","x":8,"y":6.8},{"s":"c16","x":12,"y":6.5},{"s":"c16","x":20,"y":6.2},
{"s":"c17","x":1.5,"y":15},{"s":"c17","x":2,"y":15.6},{"s":"c17","x":2.5,"y":15.3},{"s":"c17","x":3,"y":13.3},{"s":"c17","x":3.5,"y":10.7},{"s":"c17","x":4,"y":8.7},{"s":"c17","x":4.5,"y":7.6},{"s":"c17","x":5,"y":7.1},{"s":"c17","x":6,"y":6.7},{"s":"c17","x":8,"y":6.4},{"s":"c17","x":12,"y":6.0},{"s":"c17","x":20,"y":5.7},
{"s":"c18","x":1.5,"y":15},{"s":"c18","x":2,"y":15.1},{"s":"c18","x":2.5,"y":14.4},{"s":"c18","x":3,"y":12.5},{"s":"c18","x":3.5,"y":10.2},{"s":"c18","x":4,"y":8.3},{"s":"c18","x":4.5,"y":7.3},{"s":"c18","x":5,"y":6.8},{"s":"c18","x":6,"y":6.4},{"s":"c18","x":8,"y":6.0},{"s":"c18","x":12,"y":5.6},{"s":"c18","x":20,"y":5.3},
{"s":"c19","x":1.5,"y":15},{"s":"c19","x":2,"y":15.4},{"s":"c19","x":2.5,"y":14.9},{"s":"c19","x":3,"y":12.8},{"s":"c19","x":3.5,"y":10.2},{"s":"c19","x":4,"y":8.1},{"s":"c19","x":4.5,"y":7.0},{"s":"c19","x":5,"y":6.4},{"s":"c19","x":6,"y":6.0},{"s":"c19","x":8,"y":5.6},{"s":"c19","x":12,"y":5.2},{"s":"c19","x":20,"y":4.9},
{"s":"c20","x":1.5,"y":15},{"s":"c20","x":2,"y":15.2},{"s":"c20","x":2.5,"y":14.6},{"s":"c20","x":3,"y":12.5},{"s":"c20","x":3.5,"y":9.9},{"s":"c20","x":4,"y":7.8},{"s":"c20","x":4.5,"y":6.6},{"s":"c20","x":5,"y":6.1},{"s":"c20","x":6,"y":5.7},{"s":"c20","x":8,"y":5.2},{"s":"c20","x":12,"y":4.8},{"s":"c20","x":20,"y":4.5},
{"s":"c21","x":1.5,"y":15},{"s":"c21","x":2,"y":14.9},{"s":"c21","x":2.5,"y":14.1},{"s":"c21","x":3,"y":12.0},{"s":"c21","x":3.5,"y":9.5},{"s":"c21","x":4,"y":7.5},{"s":"c21","x":4.5,"y":6.4},{"s":"c21","x":5,"y":5.8},{"s":"c21","x":6,"y":5.4},{"s":"c21","x":8,"y":5.0},{"s":"c21","x":12,"y":4.5},{"s":"c21","x":20,"y":4.2},
{"s":"c22","x":1.5,"y":15},{"s":"c22","x":2,"y":15.5},{"s":"c22","x":2.5,"y":15.0},{"s":"c22","x":3,"y":12.6},{"s":"c22","x":3.5,"y":9.7},{"s":"c22","x":4,"y":7.3},{"s":"c22","x":4.5,"y":6.1},{"s":"c22","x":5,"y":5.5},{"s":"c22","x":6,"y":5.0},{"s":"c22","x":8,"y":4.6},{"s":"c22","x":12,"y":4.1},{"s":"c22","x":20,"y":3.8},
{"s":"c23","x":1.5,"y":15},{"s":"c23","x":2,"y":14.9},{"s":"c23","x":2.5,"y":14.1},{"s":"c23","x":3,"y":11.8},{"s":"c23","x":3.5,"y":9.1},{"s":"c23","x":4,"y":6.9},{"s":"c23","x":4.5,"y":5.7},{"s":"c23","x":5,"y":5.1},{"s":"c23","x":6,"y":4.6},{"s":"c23","x":8,"y":4.1},{"s":"c23","x":12,"y":3.7},{"s":"c23","x":20,"y":3.3}
],
"tilt_bold":[
{"s":"m4","x":1.5,"y":15},{"s":"m4","x":2,"y":14.85},{"s":"m4","x":2.5,"y":14.1},{"s":"m4","x":3,"y":12.5},{"s":"m4","x":3.5,"y":10.5},{"s":"m4","x":4,"y":8.8},{"s":"m4","x":4.5,"y":8.1},{"s":"m4","x":5,"y":7.8},{"s":"m4","x":6,"y":7.5},{"s":"m4","x":8,"y":7.2},{"s":"m4","x":12,"y":6.95},{"s":"m4","x":20,"y":6.7},
{"s":"m3","x":1.5,"y":15},{"s":"m3","x":2,"y":15.6},{"s":"m3","x":2.5,"y":15.4},{"s":"m3","x":3,"y":13.7},{"s":"m3","x":3.5,"y":11.4},{"s":"m3","x":4,"y":9.6},{"s":"m3","x":4.5,"y":8.6},{"s":"m3","x":5,"y":8.0},{"s":"m3","x":6,"y":7.4},{"s":"m3","x":8,"y":6.8},{"s":"m3","x":12,"y":6.3},{"s":"m3","x":20,"y":5.9},
{"s":"m2","x":1.5,"y":15},{"s":"m2","x":2,"y":14.9},{"s":"m2","x":2.5,"y":14.0},{"s":"m2","x":3,"y":12.2},{"s":"m2","x":3.5,"y":10.0},{"s":"m2","x":4,"y":8.3},{"s":"m2","x":4.5,"y":7.2},{"s":"m2","x":5,"y":6.7},{"s":"m2","x":6,"y":6.3},{"s":"m2","x":8,"y":5.9},{"s":"m2","x":12,"y":5.5},{"s":"m2","x":20,"y":5.2},
{"s":"m1","x":1.5,"y":15},{"s":"m1","x":2,"y":14.7},{"s":"m1","x":2.5,"y":13.8},{"s":"m1","x":3,"y":11.6},{"s":"m1","x":3.5,"y":9.1},{"s":"m1","x":4,"y":7.1},{"s":"m1","x":4.5,"y":5.9},{"s":"m1","x":5,"y":5.4},{"s":"m1","x":6,"y":4.9},{"s":"m1","x":8,"y":4.5},{"s":"m1","x":12,"y":4.0},{"s":"m1","x":20,"y":3.7}
]
},
"vconcat":[
{
"width":419,"height":94,
"title":{"text":"2020-06-21 (Event 1)","anchor":"middle","fontSize":9,"fontWeight":"bold","offset":0},
"layer":[
{"data":{"name":"lat_thin"},
"mark":{"type":"line","interpolate":"monotone","strokeWidth":0.8,"opacity":0.4,"clip":true},
"encoding":{
"x":{"field":"x","type":"quantitative","scale":{"domain":[1.5,20],"nice":false,"zero":false},"axis":{"orient":"bottom","values":[2.5,5,7.5,10,12.5,15,17.5,20],"labels":false,"title":null}},
"y":{"field":"y","type":"quantitative","scale":{"domain":[-19.3,14.2],"nice":false,"zero":false},"axis":{"orient":"left","values":[-15,-10,-5,0,5,10],"title":"Latitude [°]"}},
"color":{"field":"s","type":"nominal","legend":null,"scale":{"domain":["a01","a02","a03","a04","a05","a06","a07","a08","a09","a10","a11","a12","a13","a14","a15","a16","a17","a18","a19","a20","a21","a22","a23","a24","a25"],"range":["#d62728","#d62728","#e377c2","#ff7f0e","#2ca02c","#bcbd22","#ff7f0e","#17becf","#7f7f7f","#e377c2","#8c564b","#bcbd22","#17becf","#d62728","#1f77b4","#bcbd22","#d62728","#1f77b4","#2ca02c","#d62728","#ff7f0e","#1f77b4","#bcbd22","#d62728","#1f77b4"]}}
}},
{"data":{"name":"lat_bold"},
"mark":{"type":"line","interpolate":"monotone","strokeWidth":2.3,"clip":true},
"encoding":{
"x":{"field":"x","type":"quantitative","scale":{"domain":[1.5,20],"nice":false,"zero":false},"axis":{"orient":"top","values":[2.5,5,7.5,10,12.5,15,17.5,20],"labels":false,"title":null}},
"y":{"field":"y","type":"quantitative","scale":{"domain":[-19.3,14.2],"nice":false,"zero":false},"axis":{"orient":"right","values":[-15,-10,-5,0,5,10],"labels":false,"title":null}},
"color":{"field":"s","type":"nominal","legend":null,"scale":{"domain":["m4","m3","m2","m1"],"range":["#1f77b4","#ff7f0e","#2ca02c","#d62728"]}}
}}
],
"resolve":{"scale":{"color":"independent"},"axis":{"x":"independent","y":"independent"}}
},
{
"width":419,"height":94,
"layer":[
{"data":{"name":"lon_thin"},
"mark":{"type":"line","interpolate":"monotone","strokeWidth":0.8,"opacity":0.4,"clip":true},
"encoding":{
"x":{"field":"x","type":"quantitative","scale":{"domain":[1.5,20],"nice":false,"zero":false},"axis":{"orient":"bottom","values":[2.5,5,7.5,10,12.5,15,17.5,20],"labels":false,"title":null}},
"y":{"field":"y","type":"quantitative","scale":{"domain":[321.3,344.7],"nice":false,"zero":false},"axis":{"orient":"left","values":[325,330,335,340],"title":"Longitude [°]"}},
"color":{"field":"s","type":"nominal","legend":null,"scale":{"domain":["b01","b02","b03","b04","b05","b06","b07","b08","b09","b10","b11","b12","b13","b14","b15","b16","b17","b18","b19","b20","b21","b22","b23","b24","b25","b26","b27","b28","b29","b30"],"range":["#ff7f0e","#ff7f0e","#2ca02c","#bcbd22","#ff7f0e","#2ca02c","#8c564b","#17becf","#7f7f7f","#e377c2","#1f77b4","#d62728","#e377c2","#d62728","#bcbd22","#2ca02c","#17becf","#e377c2","#ff7f0e","#17becf","#1f77b4","#d62728","#2ca02c","#7f7f7f","#e377c2","#1f77b4","#d62728","#d62728","#e377c2","#d62728"]}}
}},
{"data":{"name":"lon_bold"},
"mark":{"type":"line","interpolate":"monotone","strokeWidth":2.3,"clip":true},
"encoding":{
"x":{"field":"x","type":"quantitative","scale":{"domain":[1.5,20],"nice":false,"zero":false},"axis":{"orient":"top","values":[2.5,5,7.5,10,12.5,15,17.5,20],"labels":false,"title":null}},
"y":{"field":"y","type":"quantitative","scale":{"domain":[321.3,344.7],"nice":false,"zero":false},"axis":{"orient":"right","values":[325,330,335,340],"labels":false,"title":null}},
"color":{"field":"s","type":"nominal","legend":null,"scale":{"domain":["m5","m3","m2","m4","m1"],"range":["#7f7f9a","#ff7f0e","#2ca02c","#1f77b4","#d62728"]}}
}}
],
"resolve":{"scale":{"color":"independent"},"axis":{"x":"independent","y":"independent"}}
},
{
"width":419,"height":94,
"layer":[
{"data":{"name":"tilt_thin"},
"mark":{"type":"line","interpolate":"monotone","strokeWidth":0.8,"opacity":0.4,"clip":true},
"encoding":{
"x":{"field":"x","type":"quantitative","scale":{"domain":[1.5,20],"nice":false,"zero":false},"axis":{"orient":"bottom","values":[2.5,5,7.5,10,12.5,15,17.5,20],"format":".1f","title":"Height [R☉]","titlePadding":2}},
"y":{"field":"y","type":"quantitative","scale":{"domain":[2.3,18],"nice":false,"zero":false},"axis":{"orient":"left","values":[4,6,8,10,12,14,16],"title":"Tilt [°]"}},
"color":{"field":"s","type":"nominal","legend":null,"scale":{"domain":["c01","c02","c03","c04","c05","c06","c07","c08","c09","c10","c11","c12","c13","c14","c15","c16","c17","c18","c19","c20","c21","c22","c23"],"range":["#d62728","#1f77b4","#e377c2","#17becf","#bcbd22","#ff7f0e","#2ca02c","#7f7f7f","#17becf","#1f77b4","#e377c2","#2ca02c","#9467bd","#8c564b","#bcbd22","#ff7f0e","#2ca02c","#d62728","#ff7f0e","#e377c2","#d62728","#2ca02c","#d62728"]}}
}},
{"data":{"name":"tilt_bold"},
"mark":{"type":"line","interpolate":"monotone","strokeWidth":2.3,"clip":true},
"encoding":{
"x":{"field":"x","type":"quantitative","scale":{"domain":[1.5,20],"nice":false,"zero":false},"axis":{"orient":"top","values":[2.5,5,7.5,10,12.5,15,17.5,20],"labels":false,"title":null}},
"y":{"field":"y","type":"quantitative","scale":{"domain":[2.3,18],"nice":false,"zero":false},"axis":{"orient":"right","values":[4,6,8,10,12,14,16],"labels":false,"title":null}},
"color":{"field":"s","type":"nominal","legend":null,"scale":{"domain":["m4","m3","m2","m1"],"range":["#1f77b4","#ff7f0e","#2ca02c","#d62728"]}}
}}
],
"resolve":{"scale":{"color":"independent"},"axis":{"x":"independent","y":"independent"}}
}
],
"config":{
"font":"DejaVu Sans",
"background":"white",
"view":{"stroke":"#808080","strokeWidth":1},
"axis":{"domain":false,"grid":false,"tickColor":"#808080","tickSize":2,"tickWidth":0.8,"labelFontSize":5,"labelColor":"#222222","labelPadding":1.5,"titleFontSize":7,"titleFontWeight":"normal","titleColor":"#222222"},
"axisY":{"titlePadding":1},
"title":{"font":"DejaVu Sans","color":"#000000"}
}
}
